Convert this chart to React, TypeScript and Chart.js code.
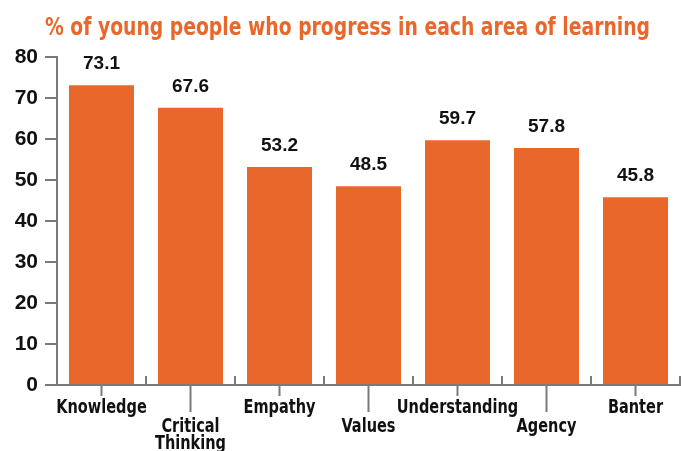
import React, { useEffect, useRef } from 'react';
import { Chart, registerables } from 'chart.js';

Chart.register(...registerables);

const chartTitle = '% of young people who progress in each area of learning';
const categories = ['Knowledge', 'Critical Thinking', 'Empathy', 'Values', 'Understanding', 'Agency', 'Banter'];
const categoryLines = [['Knowledge'], ['Critical', 'Thinking'], ['Empathy'], ['Values'], ['Understanding'], ['Agency'], ['Banter']];
const labelRows = [0, 1, 0, 1, 0, 1, 0];
const values = [73.1, 67.6, 53.2, 48.5, 59.7, 57.8, 45.8];
const yMin = 0;
const yMax = 80;
const yStep = 10;

const ORANGE = '#E9672A';
const AXIS = '#7a7a7a';
const CONDENSED = '"Liberation Sans Narrow", "DejaVu Sans Condensed", "Arial Narrow", sans-serif';
const SANS = '"Liberation Sans", Arial, sans-serif';

const decorPlugin = {
  id: 'decor',
  afterDraw(chart: any) {
    const { ctx, chartArea } = chart;
    const xs = chart.scales.x;
    const ys = chart.scales.y;
    ctx.save();

    // title
    ctx.fillStyle = ORANGE;
    ctx.font = `bold 25px ${CONDENSED}`;
    ctx.textAlign = 'left';
    ctx.textBaseline = 'alphabetic';
    ctx.fillText(chartTitle, 45, 35, 605);

    // x axis line
    const y0 = ys.getPixelForValue(0);
    ctx.strokeStyle = AXIS;
    ctx.lineWidth = 2;
    ctx.beginPath();
    ctx.moveTo(chartArea.left - 11, y0);
    ctx.lineTo(chart.width, y0);
    ctx.stroke();

    // ticks at category boundaries (upward) and at centers (downward)
    const n = categories.length;
    for (let i = 0; i < n; i++) {
      const cx = xs.getPixelForValue(i);
      if (i > 0) {
        const bx = (xs.getPixelForValue(i - 1) + cx) / 2;
        ctx.beginPath();
        ctx.moveTo(bx, y0);
        ctx.lineTo(bx, y0 - 9);
        ctx.stroke();
      }
      const len = labelRows[i] === 0 ? 11 : 27;
      ctx.beginPath();
      ctx.moveTo(cx, y0);
      ctx.lineTo(cx, y0 + len);
      ctx.stroke();
    }
    {
      const last = xs.getPixelForValue(n - 1);
      const bx = last + (last - xs.getPixelForValue(n - 2)) / 2;
      ctx.beginPath();
      ctx.moveTo(bx, y0);
      ctx.lineTo(bx, y0 - 9);
      ctx.stroke();
    }

    // category labels (condensed horizontally)
    ctx.fillStyle = '#111';
    ctx.font = `bold 19px ${CONDENSED}`;
    ctx.textAlign = 'center';
    ctx.textBaseline = 'alphabetic';
    for (let i = 0; i < n; i++) {
      const cx = xs.getPixelForValue(i);
      const base = y0 + 28 + labelRows[i] * 19;
      categoryLines[i].forEach((line, k) => {
        ctx.save();
        ctx.translate(cx, base + k * 17);
        ctx.scale(0.85, 1);
        ctx.fillText(line, 0, 0);
        ctx.restore();
      });
    }

    // value labels
    ctx.font = `bold 19px ${SANS}`;
    ctx.fillStyle = '#111';
    const meta = chart.getDatasetMeta(0);
    meta.data.forEach((bar: any, i: number) => {
      ctx.fillText(values[i].toFixed(1), bar.x, bar.y - 16);
    });

    ctx.restore();
  },
};

export default function App() {
  const ref = useRef<HTMLCanvasElement | null>(null);
  useEffect(() => {
    document.body.style.margin = '0';
    const canvas = ref.current;
    if (!canvas) return;
    const chart = new Chart(canvas, {
      type: 'bar',
      data: {
        labels: categories,
        datasets: [
          {
            data: values,
            backgroundColor: ORANGE,
            borderWidth: 0,
            barPercentage: 0.73,
            categoryPercentage: 1,
          },
        ],
      },
      options: {
        responsive: false,
        animation: false,
        devicePixelRatio: 1,
        layout: { padding: { top: 57, right: 1, left: 0, bottom: 0 } },
        plugins: {
          legend: { display: false },
          title: { display: false },
          tooltip: { enabled: false },
        },
        scales: {
          x: {
            grid: { display: false },
            border: { display: false },
            ticks: { display: false },
            afterFit: (s: any) => {
              s.height = 66;
            },
          },
          y: {
            min: yMin,
            max: yMax,
            ticks: {
              stepSize: yStep,
              color: '#111',
              padding: 7,
              font: { family: SANS, weight: 'bold', size: 21 },
            },
            grid: {
              drawOnChartArea: false,
              drawTicks: true,
              tickLength: 12,
              color: AXIS,
              lineWidth: 2,
            },
            border: { display: true, color: AXIS, width: 2 },
            afterFit: (s: any) => {
              s.width = 57;
            },
          },
        },
      },
      plugins: [decorPlugin],
    });
    return () => chart.destroy();
  }, []);
  return (
    <div style={{ position: 'absolute', left: 0, top: 0, width: 681, height: 451, background: '#fff' }}>
      <canvas ref={ref} width={681} height={451} />
    </div>
  );
}
